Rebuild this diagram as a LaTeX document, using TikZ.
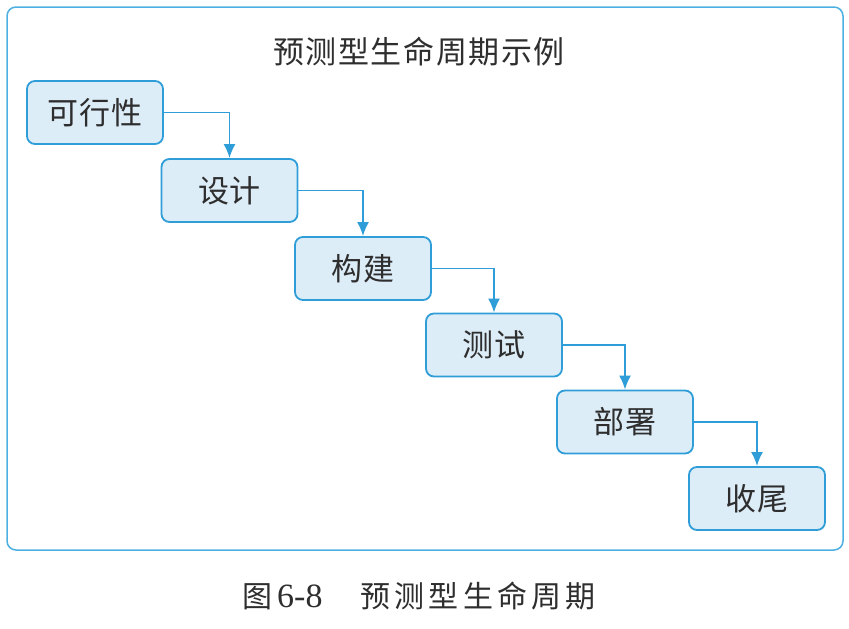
\documentclass[tikz,border=0pt]{standalone}
\usepackage{fontspec}
\setmainfont{Liberation Serif}
\newfontfamily\cjk{Noto Sans CJK SC}
\usetikzlibrary{arrows.meta}
\definecolor{boxblue}{HTML}{2F9ED8}
\definecolor{framblue}{HTML}{4DB0E2}
\definecolor{boxfill}{HTML}{DDEDF8}
\definecolor{txt}{HTML}{2E2E2E}
\tikzset{
  stagebox/.style={draw=boxblue, line width=1.8pt, fill=boxfill, rounded corners=8pt,
    minimum width=136pt, minimum height=63pt, inner sep=0pt, text=txt,
    font=\cjk\fontsize{31pt}{31pt}\selectfont\addfontfeature{LetterSpace=3}},
  flowarrow/.style={draw=boxblue, line width=1.8pt, -{Latex[length=14pt,width=12pt]}},
  frameline/.style={draw=framblue, line width=1.5pt, rounded corners=9pt},
}
\begin{document}
\begin{tikzpicture}[x=1pt,y=-1pt]
\useasboundingbox (0,0) rectangle (849,629);
\fill[white] (0,0) rectangle (849,629);
\draw[frameline] (7,7) rectangle (843,550);
\node[text=txt, font=\cjk\fontsize{31pt}{31pt}\selectfont\addfontfeature{LetterSpace=5}] (title) at (419,52) {预测型生命周期示例};
\node[stagebox] (s1) at (95,112.5) {可行性};
\node[stagebox] (s2) at (229.5,190.5) {设计};
\node[stagebox] (s3) at (363,268.5) {构建};
\node[stagebox] (s4) at (494,345) {测试};
\node[stagebox] (s5) at (625,422) {部署};
\node[stagebox] (s6) at (757,498.5) {收尾};
\draw[flowarrow] (s1.east) -| (s2.north);
\draw[flowarrow] (s2.east) -| (s3.north);
\draw[flowarrow] (s3.east) -| (s4.north);
\draw[flowarrow] (s4.east) -| (s5.north);
\draw[flowarrow] (s5.east) -| (s6.north);
\node[text=txt, anchor=west, inner sep=0pt] (cap) at (242,596) {{\cjk\fontsize{30pt}{30pt}\selectfont 图}\hspace{5pt}{\fontsize{34pt}{34pt}\selectfont 6-8}\hspace{38pt}{\cjk\fontsize{30pt}{30pt}\selectfont\addfontfeature{LetterSpace=14}预测型生命周期}};
\end{tikzpicture}
\end{document}
